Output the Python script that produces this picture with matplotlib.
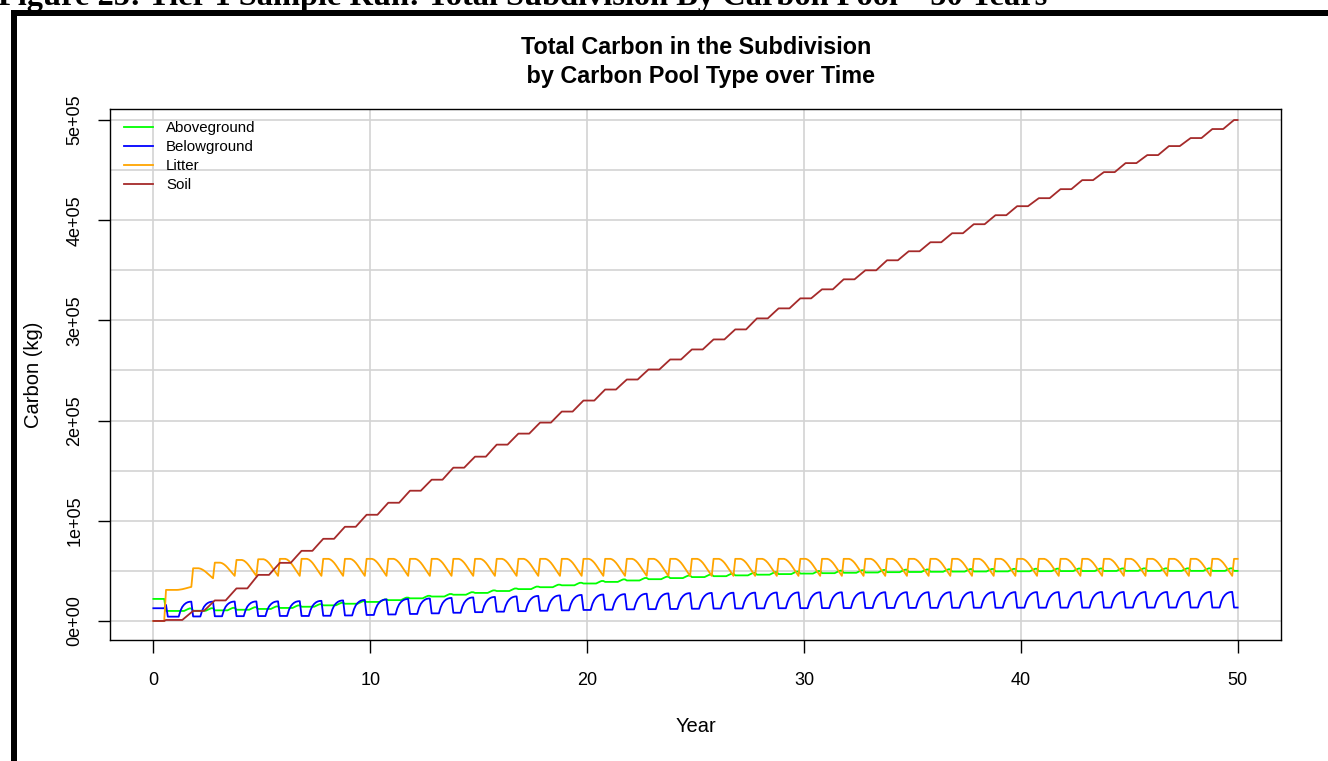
import matplotlib.pyplot as plt
import numpy as np
from matplotlib.patches import Rectangle

W, H = 1328, 761
plt.rcParams['font.family'] = ['Liberation Sans', 'DejaVu Sans']

# year-by-year levels (index = year 0..50)
soil_level = [0, 1000, 10000, 20500, 32500, 46000, 58000, 70000, 82000, 94000,
              106000, 118000, 130000, 141000, 153000, 164000, 176000, 187000, 198000, 209000,
              220000, 231000, 241000, 251000, 261000, 271000, 281000, 291000, 302000, 312000,
              322000, 331000, 341000, 350000, 360000, 369000, 378000, 387000, 396000, 405000,
              414000, 422000, 431000, 440000, 448000, 457000, 465000, 474000, 482000, 491000, 500000]
litter_peak = [0, 31000, 52600, 58200, 60900, 61600] + [62000] * 45
litter_trough = [0, 34000, 42600, 45000] + [45000] * 47
below_low = [0, 4300, 4500, 4700, 4800, 4900, 5000, 5000, 5200, 5500,
             6000, 6500, 7000, 7600, 8200, 8800, 9300, 9800, 10200, 10600,
             11000, 11300, 11600, 11800, 12000, 12200, 12400, 12500, 12600, 12700,
             12800, 12850, 12900, 12950, 13000, 13050, 13100, 13150, 13200, 13200,
             13250, 13250, 13300, 13300, 13300, 13350, 13350, 13400, 13400, 13400, 13400]
below_high = [0, 19300, 19300, 19400, 19500, 19600, 19800, 20100, 20500, 21000,
              21500, 22000, 22500, 23000, 23500, 24000, 24500, 25000, 25500, 26000,
              26400, 26800, 27200, 27500, 27800, 28000, 28200, 28300, 28400, 28500,
              28600, 28600, 28600, 28700, 28700, 28700, 28700, 28800, 28800, 28800,
              28800, 28800, 28900, 28900, 28900, 28900, 28900, 29000, 29000, 29000, 29000]
above_level = [0, 10000, 10200, 10600, 11200, 12000, 13000, 14200, 15600, 17200,
               19000, 20800, 22600, 24400, 26200, 28000, 29900, 31800, 33700, 35600,
               37400, 39000, 40400, 41700, 42800, 43800, 44700, 45500, 46200, 46800,
               47300, 47700, 48100, 48400, 48700, 48900, 49100, 49300, 49400, 49500,
               49600, 49700, 49800, 49850, 49900, 50000, 50000, 50000, 50000, 50000, 50000]
above_bump = 2500

# first year, month by month
soil_y0 = [0, 0, 0, 0, 0, 0, 0, 1000, 1000, 1000, 1000, 1000]
litter_y0 = [0, 0, 0, 0, 0, 0, 0, 31000, 31000, 31000, 31000, 31000]
below_y0 = [12700, 12700, 12700, 12700, 12700, 12700, 12700, 16000, 4300, 4300, 4300, 4300]
above_y0 = [22000, 22000, 22000, 22000, 22000, 22000, 22000, 10000, 10000, 10000, 10000, 10000]

# monthly profile within a year
soil_shape = [0, 0, 0, 0, 0, 0.17, 0.33, 0.5, 0.67, 0.83, 1, 1]
litter_shape = [1, 1, 0.96, 0.88, 0.77, 0.63, 0.47, 0.3, 0.14, 0]
below_shape = [0, 0, 0, 0.4, 0.65, 0.8, 0.9, 0.96, 0.99, 1]
above_shape = [0, 0, 0, 0, 0, 0, 0.35, 0.7, 1, 1]

t = [m / 12 for m in range(12)]
soil, litter = list(soil_y0), list(litter_y0)
below, above = list(below_y0), list(above_y0)
for k in range(1, 50):
    for m in range(12):
        t.append(k + m / 12)
        soil.append(soil_level[k] + (soil_level[k + 1] - soil_level[k]) * soil_shape[m])
        if m < 10:
            litter.append(litter_trough[k] + (litter_peak[k] - litter_trough[k]) * litter_shape[m])
            below.append(below_low[k] + (below_high[k] - below_low[k]) * below_shape[m])
            above.append(above_level[k] + above_bump * above_shape[m])
        else:
            litter.append(litter_peak[k + 1])
            below.append(below_low[k + 1])
            above.append(above_level[k + 1])
t.append(50)
soil.append(soil_level[50])
litter.append(litter_peak[50])
below.append(below_low[50])
above.append(above_level[50])

fig = plt.figure(figsize=(W / 100, H / 100), dpi=100)

# caption of the document, cut at the top
fig.text(-2 / W, 1 - 5 / H, 'Figure 25: Tier 1 Sample Run: Total Subdivision By Carbon Pool \u2013 50 Years',
         family='Liberation Serif', weight='bold', fontsize=23.3, ha='left', va='baseline')
# thick frame of the page
fig.add_artist(Rectangle((11 / W, 0), 6 / W, 1 - 10 / H, transform=fig.transFigure,
                         color='black', lw=0))
fig.add_artist(Rectangle((11 / W, 1 - 16 / H), 1 - 11 / W, 6 / H, transform=fig.transFigure,
                         color='black', lw=0))

ax = fig.add_axes([110 / W, 1 - 640 / H, 1171 / W, 531 / H])
for gx in range(0, 51, 10):
    ax.axvline(gx, color='#d3d3d3', lw=1.2, zorder=0)
for gy in range(0, 500001, 50000):
    ax.axhline(gy, color='#d3d3d3', lw=1.2, zorder=0)

ax.plot(t, above, color='#00ff00', lw=1.3, label='Aboveground')
ax.plot(t, below, color='#0000ff', lw=1.3, label='Belowground')
ax.plot(t, litter, color='#ffa500', lw=1.3, label='Litter')
ax.plot(t, soil, color='#a52a2a', lw=1.3, label='Soil')

ax.set_xlim(-2, 52)
ax.set_ylim(-19000, 511000)
ax.set_xticks(range(0, 51, 10))
ax.set_yticks(range(0, 500001, 100000))
ax.set_yticklabels(['0e+00', '1e+05', '2e+05', '3e+05', '4e+05', '5e+05'])
ax.tick_params(length=9, width=1, labelsize=13)
ax.tick_params(axis='x', pad=14)
ax.tick_params(axis='y', pad=10)
for lbl in ax.get_yticklabels():
    lbl.set_rotation(90)
    lbl.set_va('center')
for s in ax.spines.values():
    s.set_linewidth(1)

ax.set_xlabel('Year', fontsize=14.5, labelpad=20)
ax.set_ylabel('Carbon (kg)', fontsize=14.5, labelpad=17)

fig.text(696 / W, 1 - 47 / H, 'Total Carbon in the Subdivision', fontsize=16.8,
         weight='bold', ha='center', va='center')
fig.text(697 / W, 1 - 76 / H, ' by Carbon Pool Type over Time', fontsize=16.8,
         weight='bold', ha='center', va='center')

ax.legend(loc='upper left', bbox_to_anchor=(124 / W, 1 - 121 / H), bbox_transform=fig.transFigure,
          frameon=False, fontsize=10.8, handlelength=1.93, handletextpad=0.87,
          labelspacing=0.33, borderpad=0, borderaxespad=0)

fig.savefig('out.png', dpi=100)
